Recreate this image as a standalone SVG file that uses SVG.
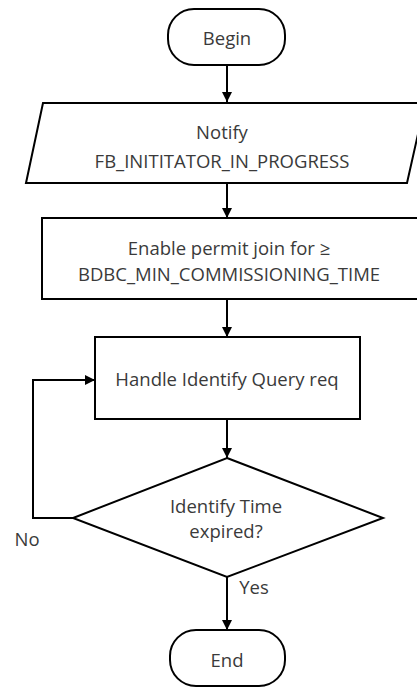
<svg xmlns="http://www.w3.org/2000/svg" width="417" height="687" viewBox="0 0 417 687">
<defs>
<marker id="arr" viewBox="0 0 10 10" refX="10" refY="5" markerWidth="5" markerHeight="5" orient="auto" markerUnits="strokeWidth">
<path d="M0,0 L10,5 L0,10 z" fill="#000"/>
</marker>
<style>
.s{fill:#fff;stroke:#000;stroke-width:2}
.t{font-family:"Open Sans","Liberation Sans",sans-serif;font-size:18.5px;fill:#3a3a3a;text-anchor:middle}
.c{fill:none;stroke:#000;stroke-width:2;marker-end:url(#arr)}
</style>
</defs>
<rect width="417" height="687" fill="#fff"/>
<g id="connectors">
<path class="c" d="M227,65 V102"/>
<path class="c" d="M227,183 V218"/>
<path class="c" d="M227,299 V337"/>
<path class="c" d="M227,419 V458"/>
<path class="c" d="M227,577 V630"/>
<path class="c" d="M73,518 H33 V380 H95"/>
</g>
<g id="begin">
<rect class="s" x="168" y="9" width="117" height="56" rx="26"/>
<text class="t" x="227" y="45">Begin</text>
</g>
<g id="notify">
<path class="s" d="M43,103 L425,103 L407,183 L26,183 Z"/>
<text class="t" x="222" y="139">Notify</text>
<text class="t" x="222" y="168">FB_INITITATOR_IN_PROGRESS</text>
</g>
<g id="permit">
<rect class="s" x="42" y="218" width="380" height="81"/>
<text class="t" x="229" y="255">Enable permit join for ≥</text>
<text class="t" x="229" y="281">BDBC_MIN_COMMISSIONING_TIME</text>
</g>
<g id="handle">
<rect class="s" x="95" y="337" width="265" height="82"/>
<text class="t" x="227" y="386">Handle Identify Query req</text>
</g>
<g id="decision">
<path class="s" d="M227,458 L383,518 L227,577 L73,518 Z"/>
<text class="t" x="226" y="513">Identify Time</text>
<text class="t" x="226" y="538">expired?</text>
</g>
<g id="end">
<rect class="s" x="170" y="630" width="115" height="56" rx="26"/>
<text class="t" x="227" y="667">End</text>
</g>
<text class="t" x="27" y="546">No</text>
<text class="t" x="254" y="594">Yes</text>
</svg>
